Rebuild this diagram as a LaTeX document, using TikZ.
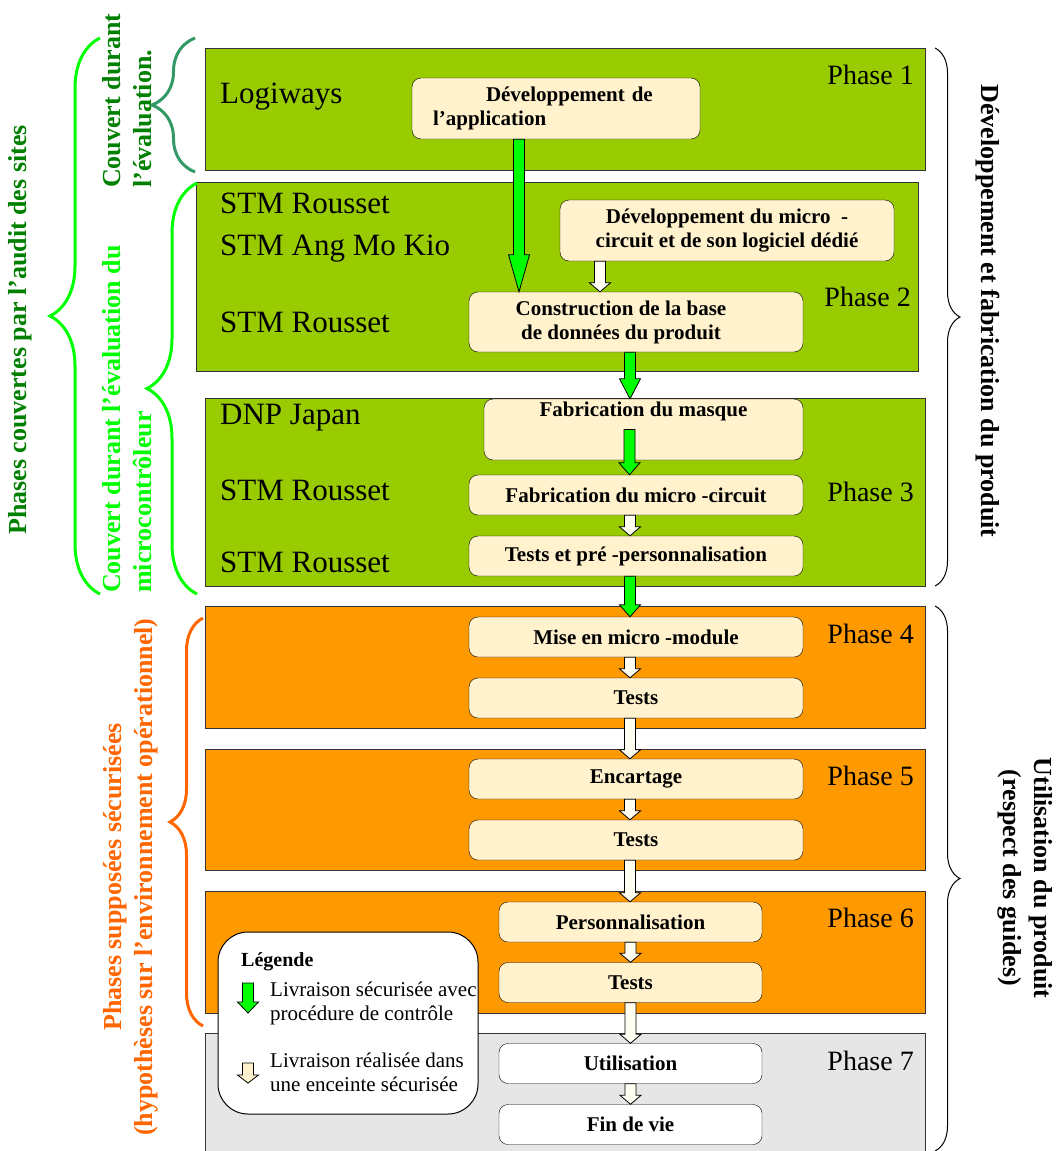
\documentclass[tikz,border=0pt]{standalone}
\usepackage{fontspec}
\setmainfont{Liberation Serif}
\usetikzlibrary{calc,decorations.pathreplacing}
\definecolor{lime}{RGB}{153,204,0}
\definecolor{amber}{RGB}{255,153,0}
\definecolor{ashgray}{RGB}{230,230,230}
\definecolor{cream}{RGB}{255,242,204}
\definecolor{paleflow}{RGB}{255,255,242}
\definecolor{brightgreen}{RGB}{0,255,0}
\definecolor{darkgreen}{RGB}{0,128,0}
\definecolor{tealbrace}{RGB}{51,153,102}
\definecolor{orangetext}{RGB}{255,102,0}
% fat vertical arrow: fill, start, end, head length
\newcommand{\fatarrow}[4]{%
  \draw[fill=#1, line width=0.8pt] let \p1=(#2), \p2=(#3) in
    (\x1-5.5pt,\y1) -- (\x1-5.5pt,\y2+#4) -- (\x1-10.5pt,\y2+#4) -- (\x1,\y2)
    -- (\x1+10.5pt,\y2+#4) -- (\x1+5.5pt,\y2+#4) -- (\x1+5.5pt,\y1) -- cycle;}
\begin{document}
\begin{tikzpicture}[x=1pt, y=-1pt,
                    panel/.style={draw=black!80, line width=1pt},
                    task/.style={draw, rounded corners=9pt, fill=cream, minimum height=40pt, inner sep=2pt, align=center, font=\fontsize{21}{24}\selectfont\bfseries},
                    site/.style={anchor=west, inner sep=0pt, font=\fontsize{31}{34}\selectfont},
                    phase/.style={anchor=east, inner sep=0pt, font=\fontsize{28}{32}\selectfont},
                    side/.style={inner sep=0pt, font=\fontsize{26}{31}\selectfont\bfseries},
                    bracket/.style={decorate, decoration={brace, amplitude=#1}}]
\useasboundingbox (0,0) rectangle (1057,1151);

% phases
\draw[panel, fill=lime] (205,48) rectangle (925,170);
\draw[panel, fill=lime] (196,182) rectangle (918,371);
\draw[panel, fill=lime] (205,398) rectangle (925,586);
\draw[panel, fill=amber] (205,606) rectangle (925,728);
\draw[panel, fill=amber] (205,749) rectangle (925,870);
\draw[panel, fill=amber] (205,891) rectangle (925,1013);
\fill[ashgray] (205,1033) rectangle (925,1165);
\draw[panel] (205,1165) -- (205,1033) -- (925,1033) -- (925,1165);

% braces
\draw[bracket=50pt, brightgreen, line width=3pt] (100,594) -- (100,38);
\draw[bracket=43pt, tealbrace, line width=3pt] (195,172) -- (195,38);
\draw[bracket=50pt, brightgreen, line width=3pt] (197,594) -- (197,183);
\draw[bracket=33pt, orangetext, line width=3pt] (203,1026) -- (203,618);
\draw[bracket=25pt, line width=1pt] (935,48) -- (935,586);
\draw[bracket=25pt, line width=1pt] (935,606) -- (935,1151);

% side labels
\node[side, rotate=90, text=darkgreen] (audit) at (20,330) {Phases couvertes par l'audit des sites};
\node[side, rotate=90, text=darkgreen, align=left, anchor=north west] (evalapp) at (102,188) {Couvert durant\\l'évaluation.};
\node[side, rotate=90, text=brightgreen, align=left, anchor=north west] (evalmcu) at (102,593) {Couvert durant l'évaluation du\\microcontrôleur};
\node[side, rotate=90, text=orangetext, align=center] (secure) at (131,877) {Phases supposées sécurisées\\(hypothèses sur l'environnement opérationnel)};
\node[side, rotate=-90] (devfab) at (988,311) {Développement et fabrication du produit};
\node[side, rotate=-90, align=center] (usage) at (1025,878) {Utilisation du produit\\(respect des guides)};

% sites
\node[site] (logiways) at (220,97) {Logiways};
\node[site] (rousseta) at (220,203) {STM Rousset};
\node[site] (angmokio) at (220,249) {STM Ang Mo Kio};
\node[site] (roussetb) at (220,322) {STM Rousset};
\node[site] (dnp) at (220,418) {DNP Japan};
\node[site] (roussetc) at (220,490) {STM Rousset};
\node[site] (roussetd) at (220,562) {STM Rousset};

% phase numbers
\node[phase] (ph1) at (914,75) {Phase 1};
\node[phase] (ph2) at (911,297) {Phase 2};
\node[phase] (ph3) at (914,492) {Phase 3};
\node[phase] (ph4) at (914,634) {Phase 4};
\node[phase] (ph5) at (914,776) {Phase 5};
\node[phase] (ph6) at (914,918) {Phase 6};
\node[phase] (ph7) at (914,1061) {Phase 7};

% steps
\node[task, minimum width=288pt, minimum height=61pt, text width=246pt, align=left] (app) at (556,108.5) {\hspace*{53pt}Développement de\\l'application};
\node[task, minimum width=334pt, minimum height=61pt] (micro) at (727,230.5) {Développement du micro\ \ -\\circuit et de son logiciel dédié};
\node[task, minimum width=334pt, minimum height=60pt] (constr) at (636,322) {Construction de la base\hspace*{30pt}\\de données du produit\hspace*{30pt}};
\node[task, minimum width=319pt, minimum height=61pt, label={[anchor=north, font=\fontsize{21}{24}\selectfont\bfseries]north:Fabrication du masque}] (masque) at (643.5,429.5) {};
\node[task, minimum width=334pt] (circuit) at (636,495) {Fabrication du micro -circuit};
\node[task, minimum width=334pt] (prepers) at (636,556) {Tests et pré -personnalisation};
\node[task, minimum width=334pt] (mise) at (636,637) {Mise en micro -module};
\node[task, minimum width=334pt] (tests4) at (636,698) {Tests};
\node[task, minimum width=334pt] (encart) at (636,779) {Encartage};
\node[task, minimum width=334pt] (tests5) at (636,840) {Tests};
\node[task, minimum width=263pt] (perso) at (630.5,922) {Personnalisation};
\node[task, minimum width=263pt] (tests6) at (630.5,982.5) {Tests};
\node[task, minimum width=263pt, fill=white] (util) at (630.5,1063.5) {Utilisation};
\node[task, minimum width=263pt, fill=white] (fin) at (630.5,1124.5) {Fin de vie};

% deliveries
\fatarrow{brightgreen}{[xshift=-37pt]app.south}{constr.north}{37pt}
\fatarrow{paleflow}{[xshift=-127pt]micro.south}{constr.north}{9pt}
\fatarrow{brightgreen}{[xshift=-6pt]constr.south}{masque.north}{20pt}
\fatarrow{brightgreen}{[xshift=-14pt]masque.center}{circuit.north}{12pt}
\fatarrow{paleflow}{[xshift=-6pt]circuit.south}{prepers.north}{9pt}
\fatarrow{brightgreen}{[xshift=-6pt]prepers.south}{mise.north}{12pt}
\foreach \a/\b in {mise/tests4, tests4/encart, encart/tests5, tests5/perso}
  \fatarrow{paleflow}{[xshift=-6pt]\a.south}{\b.north}{9pt};
\foreach \a/\b in {perso/tests6, tests6/util, util/fin}
  \fatarrow{paleflow}{\a.south}{\b.north}{9pt};

% legend
\node[draw, fill=white, line width=1pt, rounded corners=30pt, minimum width=260pt, minimum height=182pt] (legend) at (348,1023) {};
\node[anchor=west, inner sep=0pt, font=\fontsize{20}{24}\selectfont\bfseries] (legtitle) at (241,962) {Légende};
\coordinate (keyga) at (248,983);
\coordinate (keygb) at (248,1013);
\coordinate (keywa) at (248,1063);
\coordinate (keywb) at (248,1083);
\fatarrow{brightgreen}{keyga}{keygb}{11pt}
\fatarrow{cream}{keywa}{keywb}{8pt}
\node[anchor=north west, align=left, inner sep=0pt, font=\fontsize{21}{24}\selectfont] (keyg) at (270,982) {Livraison sécurisée avec\\procédure de contrôle};
\node[anchor=north west, align=left, inner sep=0pt, font=\fontsize{21}{24}\selectfont] (keyw) at (270,1053) {Livraison réalisée dans\\une enceinte sécurisée};
\end{tikzpicture}
\end{document}
